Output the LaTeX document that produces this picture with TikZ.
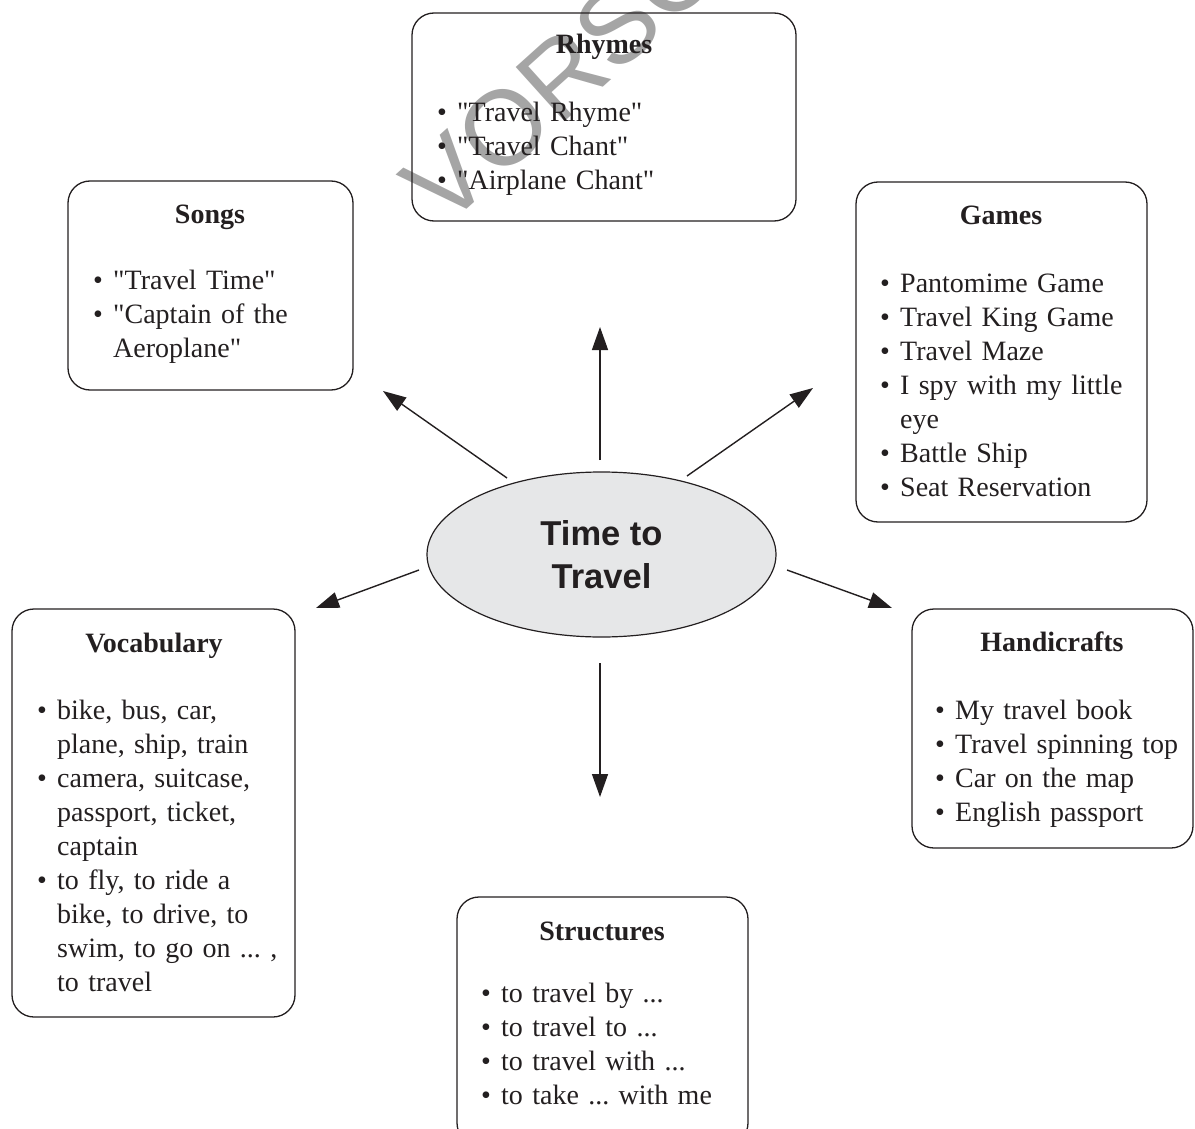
\documentclass[tikz,border=0pt]{standalone}
\usepackage{fontspec}
\setmainfont{Liberation Serif}[Ligatures=TeXOff]
\newfontfamily\hubfont{Liberation Sans}
\usetikzlibrary{shapes.geometric,arrows.meta}
\definecolor{ellfill}{RGB}{230,231,232}
\definecolor{ink}{RGB}{35,31,32}
\definecolor{wm}{RGB}{165,165,165}
\newcommand\bitem[1]{\par\hangindent=20pt\hangafter=1\noindent\strut\makebox[20pt][l]{•}#1\par}
\begin{document}
\frenchspacing
\begin{tikzpicture}[x=1pt,y=-1pt,
  box/.style={draw=ink, line width=1.3pt, rounded corners=22pt, inner sep=0pt, rectangle},
  ttl/.style={font=\fontsize{28}{34}\selectfont\bfseries, text=ink, anchor=base, inner sep=0pt},
  lst/.style={font=\fontsize{28}{34}\selectfont\frenchspacing, text=ink, anchor=north west, inner sep=0pt, text width=400pt, align=left},
  arr/.style={draw=ink, line width=1.4pt, -{Triangle[length=23pt,width=16pt]}},
]
\useasboundingbox (0,0) rectangle (1195,1129);
\clip (0,0) rectangle (1195,1129);
% watermark
\node[font=\hubfont\fontsize{106}{106}\selectfont, text=wm, rotate=42, anchor=west, inner sep=0pt] (wmark) at (420,203) {VORSCHAU};

% boxes
\node[box, minimum width=384pt, minimum height=208pt] (rhymes) at (604,117) {};
\node[ttl] (rhymesT) at (604,54) {Rhymes};
\node[lst] (rhymesL) at (437,87.2) {\bitem{"Travel Rhyme"}\bitem{"Travel Chant"}\bitem{"Airplane Chant"}};

\node[box, minimum width=285pt, minimum height=209pt] (songs) at (210.5,285.5) {};
\node[ttl] (songsT) at (210,223) {Songs};
\node[lst] (songsL) at (93,255.2) {\bitem{"Travel Time"}\bitem{"Captain of the\newline Aeroplane"}};

\node[box, minimum width=291pt, minimum height=340pt] (games) at (1001.5,352) {};
\node[ttl] (gamesT) at (1001,224) {Games};
\node[lst] (gamesL) at (880,258.2) {\bitem{Pantomime Game}\bitem{Travel King Game}\bitem{Travel Maze}\bitem{I spy with my little\newline eye}\bitem{Battle Ship}\bitem{Seat Reservation}};

\node[box, minimum width=283pt, minimum height=408pt] (voc) at (153.5,813) {};
\node[ttl] (vocT) at (154,652) {Vocabulary};
\node[lst] (vocL) at (37,685.2) {\bitem{bike, bus, car,\newline plane, ship, train}\bitem{camera, suitcase,\newline passport, ticket,\newline captain}\bitem{to fly, to ride a\newline bike, to drive, to\newline swim, to go on ... ,\newline to travel}};

\node[box, minimum width=281pt, minimum height=239pt] (hand) at (1052.5,728.5) {};
\node[ttl] (handT) at (1052,651) {Handicrafts};
\node[lst] (handL) at (935,685.2) {\bitem{My travel book}\bitem{Travel spinning top}\bitem{Car on the map}\bitem{English passport}};

\node[box, minimum width=291pt, minimum height=248pt] (str) at (602.5,1021) {};
\node[ttl] (strT) at (602,940) {Structures};
\node[lst] (strL) at (481,968.2) {\bitem{to travel by ...}\bitem{to travel to ...}\bitem{to travel with ...}\bitem{to take ... with me}};

% hub
\node[ellipse, draw=ink, line width=1.2pt, fill=ellfill, minimum width=349pt, minimum height=165pt,
  font=\hubfont\fontsize{34.5}{43}\selectfont\bfseries, align=center, text=ink, inner sep=0pt] (hub) at (601.5,554.5) {Time to\\Travel};

% arrows
\coordinate (uS) at (600,460); \coordinate (uE) at (600,327);
\coordinate (dS) at (600,663); \coordinate (dE) at (600,797);
\coordinate (ulS) at (507,478); \coordinate (ulE) at (383,391);
\coordinate (lS) at (419,570); \coordinate (lE) at (316,608);
\coordinate (urS) at (687,476); \coordinate (urE) at (813,388);
\coordinate (rS) at (787,570); \coordinate (rE) at (892,608);
\draw[arr] (uS) -- (uE);
\draw[arr] (dS) -- (dE);
\draw[arr] (ulS) -- (ulE);
\draw[arr] (lS) -- (lE);
\draw[arr] (urS) -- (urE);
\draw[arr] (rS) -- (rE);
\end{tikzpicture}
\end{document}
